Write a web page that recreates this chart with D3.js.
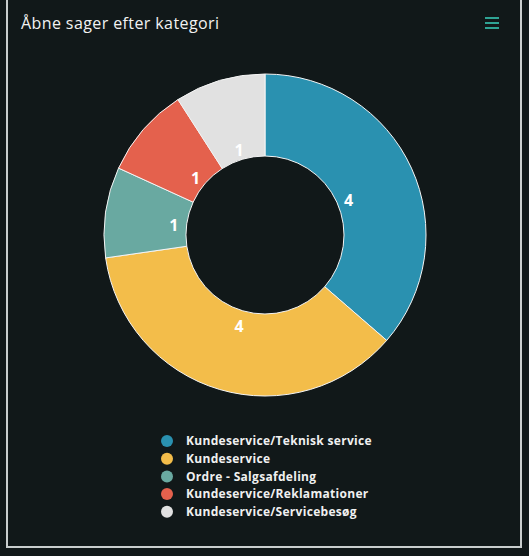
<!DOCTYPE html>
<html>
<head>
<meta charset="utf-8">
<script src="https://d3js.org/d3.v7.min.js"></script>
<style>
	html, body { margin: 0; padding: 0; background: #111819; }
	svg { display: block; }
</style>
</head>
<body>
<div id="chart"></div>
<script>
var title = "Åbne sager efter kategori";
var categories = [
	"Kundeservice/Teknisk service",
	"Kundeservice",
	"Ordre - Salgsafdeling",
	"Kundeservice/Reklamationer",
	"Kundeservice/Servicebesøg"
];
var values = [4, 4, 1, 1, 1];
var colors = ["#2a91b0", "#f3bd4a", "#69a9a1", "#e4614d", "#e1e1e1"];

var width = 529, height = 556;
var cx = 265, cy = 235, outer = 161, inner = 79;

var svg = d3.select("#chart").append("svg")
	.attr("width", width)
	.attr("height", height);

svg.append("rect")
	.attr("width", width).attr("height", height)
	.attr("fill", "#111819");

// panel border (left, right, bottom)
svg.append("path")
	.attr("d", "M 7,-2 L 7,547 L 521,547 L 521,-2")
	.attr("fill", "none")
	.attr("stroke", "#c9cdcd")
	.attr("stroke-width", 2);

svg.append("text")
	.attr("x", 21)
	.attr("y", 29)
	.attr("fill", "#f2f2f2")
	.attr("font-family", "Open Sans")
	.attr("font-size", 16)
	.attr("letter-spacing", 0.4)
	.text(title);

// hamburger menu
var menu = svg.append("g").attr("transform", "translate(485,17)");
[0, 5, 10].forEach(function (dy) {
	menu.append("rect")
		.attr("x", 0).attr("y", dy)
		.attr("width", 14).attr("height", 2)
		.attr("fill", "#2fa394");
});

var pie = d3.pie().sort(null).value(function (d) { return d; });
var arc = d3.arc().innerRadius(inner).outerRadius(outer);
var labelArc = d3.arc().innerRadius(92).outerRadius(92);

var g = svg.append("g").attr("transform", "translate(" + cx + "," + cy + ")");
var arcs = pie(values);

g.selectAll("path.slice")
	.data(arcs)
	.enter().append("path")
	.attr("class", "slice")
	.attr("d", arc)
	.attr("fill", function (d, i) { return colors[i]; })
	.attr("stroke", "#f4f4f4")
	.attr("stroke-width", 1);

g.selectAll("text.lbl")
	.data(arcs)
	.enter().append("text")
	.attr("class", "lbl")
	.attr("transform", function (d) {
		var p = labelArc.centroid(d);
		return "translate(" + p[0] + "," + (p[1] + 3) + ")";
	})
	.attr("text-anchor", "middle")
	.attr("dominant-baseline", "central")
	.attr("fill", "#ffffff")
	.attr("font-family", "Open Sans")
	.attr("font-weight", "bold")
	.attr("font-size", 16)
	.text(function (d) { return d.value; });

var legend = svg.append("g").attr("transform", "translate(167,441)");
var rows = legend.selectAll("g")
	.data(categories)
	.enter().append("g")
	.attr("transform", function (d, i) { return "translate(0," + (i * 17.7) + ")"; });

rows.append("circle")
	.attr("r", 6)
	.attr("fill", function (d, i) { return colors[i]; });

rows.append("text")
	.attr("x", 19)
	.attr("dy", "0.35em")
	.attr("fill", "#f0f0f0")
	.attr("font-family", "Open Sans")
	.attr("font-weight", "bold")
	.attr("font-size", 12)
	.attr("letter-spacing", 0.3)
	.text(function (d) { return d; });
</script>
</body>
</html>
